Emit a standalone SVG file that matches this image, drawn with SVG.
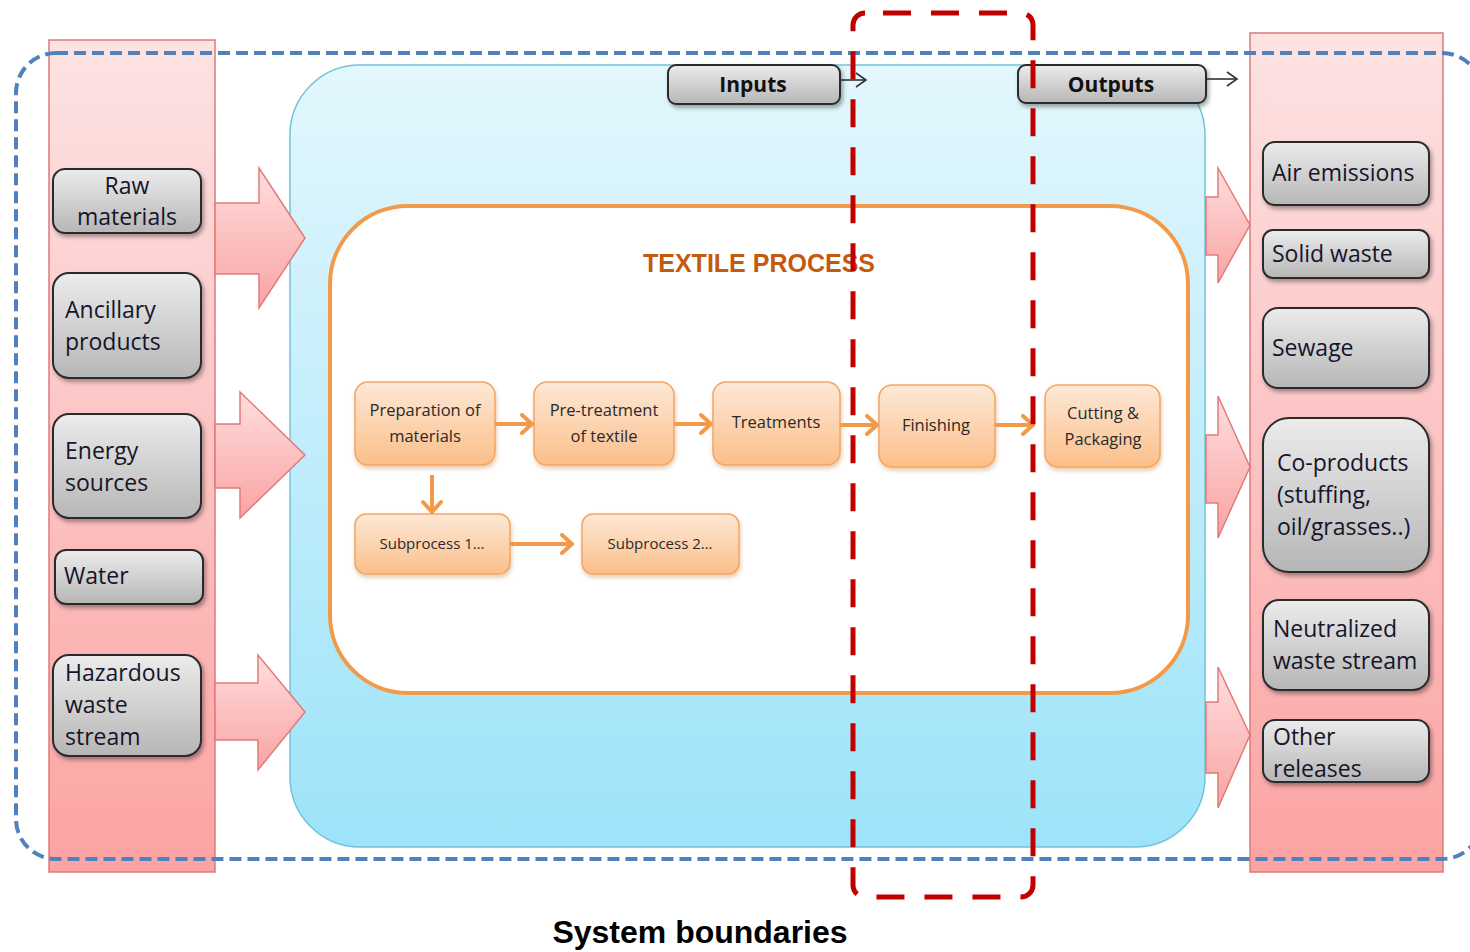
<svg xmlns="http://www.w3.org/2000/svg" width="1470" height="952" viewBox="0 0 1470 952">
  <defs>
    <linearGradient id="gPink" x1="0" y1="0" x2="0" y2="1">
      <stop offset="0" stop-color="#fde3e3"/>
      <stop offset="1" stop-color="#fca3a3"/>
    </linearGradient>
    <linearGradient id="gBlue" x1="0" y1="0" x2="0" y2="1">
      <stop offset="0" stop-color="#e3f7fd"/>
      <stop offset="1" stop-color="#9de3f9"/>
    </linearGradient>
    <linearGradient id="gGray" x1="0" y1="0" x2="0" y2="1">
      <stop offset="0" stop-color="#ececec"/>
      <stop offset="1" stop-color="#b6b6b6"/>
    </linearGradient>
    <linearGradient id="gOrange" x1="0" y1="0" x2="0" y2="1">
      <stop offset="0" stop-color="#fde8d6"/>
      <stop offset="1" stop-color="#fbbf8a"/>
    </linearGradient>
    <linearGradient id="gArrow" x1="0" y1="0" x2="0" y2="1">
      <stop offset="0" stop-color="#ffdede"/>
      <stop offset="1" stop-color="#f9a3a3"/>
    </linearGradient>
    <filter id="shadow" x="-10%" y="-10%" width="130%" height="140%">
      <feDropShadow dx="2" dy="3" stdDeviation="2" flood-color="#000" flood-opacity="0.35"/>
    </filter>
    <filter id="shadowSoft" x="-10%" y="-10%" width="130%" height="140%">
      <feDropShadow dx="1" dy="3" stdDeviation="2" flood-color="#b05a10" flood-opacity="0.3"/>
    </filter>
    <marker id="mOrange" markerUnits="userSpaceOnUse" markerWidth="16" markerHeight="22" viewBox="0 0 16 22" refX="13" refY="11" orient="auto">
      <path d="M3,2 L13,11 L3,20" fill="none" stroke="#f39a48" stroke-width="4" stroke-linecap="round" stroke-linejoin="round"/>
    </marker>
    <marker id="mDark" markerUnits="userSpaceOnUse" markerWidth="14" markerHeight="18" viewBox="0 0 14 18" refX="12" refY="9" orient="auto">
      <path d="M2,2 L12,9 L2,16" fill="none" stroke="#333" stroke-width="1.6"/>
    </marker>
  </defs>
  <style>
    .col { fill: url(#gPink); stroke: #de7a7a; stroke-width: 1.5; }
    .gray { fill: url(#gGray); stroke: #2b2b2b; stroke-width: 2; filter: url(#shadow); }
    .proc { fill: url(#gOrange); stroke: #f5a561; stroke-width: 1.5; filter: url(#shadowSoft); }
    .big { fill: url(#gArrow); stroke: #e27a7a; stroke-width: 1.5; }
    .lbl { font-family: "Open Sans", "Noto Sans", sans-serif; font-size: 23px; fill: #15152a; }
    .plbl { font-family: "Open Sans", "Noto Sans", sans-serif; font-size: 16.5px; fill: #2a2a2a; text-anchor: middle; }
    .slbl { font-family: "Open Sans", "Noto Sans", sans-serif; font-size: 15px; fill: #2a2a2a; text-anchor: middle; }
    .io { font-family: "Open Sans", "Noto Sans", sans-serif; font-size: 21px; font-weight: bold; fill: #111; text-anchor: middle; }
    .flow { fill: none; stroke: #f39a48; stroke-width: 4; marker-end: url(#mOrange); }
    .thin { fill: none; stroke: #333; stroke-width: 1.6; marker-end: url(#mDark); }
  </style>

  <!-- input and output columns -->
  <rect id="input-column" class="col" x="49" y="40" width="166" height="832"/>
  <rect id="output-column" class="col" x="1250" y="33" width="193" height="839"/>

  <!-- process area -->
  <rect id="process-area" x="290" y="65" width="915" height="782" rx="70" fill="url(#gBlue)" stroke="#74c2da" stroke-width="1.5"/>

  <!-- wide block arrows into and out of the process area -->
  <g id="flow-arrows">
    <polygon class="big" points="215,203 259,203 259,168 305,238 259,308 259,274 215,274"/>
    <polygon class="big" points="215,424 240,424 240,392 305,455 240,518 240,488 215,488"/>
    <polygon class="big" points="215,683 258,683 258,655 305,712 258,770 258,740 215,740"/>
    <polygon class="big" points="1206,197 1218,197 1218,168 1250,225 1218,283 1218,255 1206,255"/>
    <polygon class="big" points="1206,435 1218,435 1218,396 1250,467 1218,538 1218,503 1206,503"/>
    <polygon class="big" points="1206,702 1218,702 1218,667 1250,735 1218,808 1218,773 1206,773"/>
  </g>

  <!-- textile process frame -->
  <g id="textile-process">
    <rect x="330" y="206" width="858" height="487" rx="78" fill="#fff" stroke="#f39a48" stroke-width="4"/>
    <text x="759" y="272" text-anchor="middle" font-family="'Liberation Sans', Arial, sans-serif" font-size="25" font-weight="bold" fill="#c25a10">TEXTILE PROCESS</text>
  </g>

  <!-- input nodes -->
  <g id="raw-materials">
    <rect class="gray" x="53" y="169" width="148" height="64" rx="12"/>
    <text class="lbl" x="127" y="194" text-anchor="middle">Raw</text>
    <text class="lbl" x="127" y="225" text-anchor="middle">materials</text>
  </g>
  <g id="ancillary-products">
    <rect class="gray" x="53" y="273" width="148" height="105" rx="16"/>
    <text class="lbl" x="65" y="318">Ancillary</text>
    <text class="lbl" x="65" y="350">products</text>
  </g>
  <g id="energy-sources">
    <rect class="gray" x="53" y="414" width="148" height="104" rx="16"/>
    <text class="lbl" x="65" y="459">Energy</text>
    <text class="lbl" x="65" y="491">sources</text>
  </g>
  <g id="water">
    <rect class="gray" x="55" y="550" width="148" height="54" rx="11"/>
    <text class="lbl" x="64" y="584">Water</text>
  </g>
  <g id="hazardous-waste">
    <rect class="gray" x="53" y="655" width="148" height="101" rx="16"/>
    <text class="lbl" x="65" y="681">Hazardous</text>
    <text class="lbl" x="65" y="713">waste</text>
    <text class="lbl" x="65" y="745">stream</text>
  </g>

  <!-- output nodes -->
  <g id="air-emissions">
    <rect class="gray" x="1263" y="142" width="166" height="63" rx="12"/>
    <text class="lbl" x="1272" y="181">Air emissions</text>
  </g>
  <g id="solid-waste">
    <rect class="gray" x="1263" y="230" width="166" height="48" rx="10"/>
    <text class="lbl" x="1272" y="262">Solid waste</text>
  </g>
  <g id="sewage">
    <rect class="gray" x="1263" y="308" width="166" height="80" rx="15"/>
    <text class="lbl" x="1272" y="356">Sewage</text>
  </g>
  <g id="co-products">
    <rect class="gray" x="1263" y="418" width="166" height="154" rx="26"/>
    <text class="lbl" x="1277" y="471">Co-products</text>
    <text class="lbl" x="1277" y="503">(stuffing,</text>
    <text class="lbl" x="1277" y="535">oil/grasses..)</text>
  </g>
  <g id="neutralized-waste">
    <rect class="gray" x="1263" y="600" width="166" height="90" rx="16"/>
    <text class="lbl" x="1273" y="637">Neutralized</text>
    <text class="lbl" x="1273" y="669">waste stream</text>
  </g>
  <g id="other-releases">
    <rect class="gray" x="1263" y="720" width="166" height="62" rx="12"/>
    <text class="lbl" x="1273" y="745">Other</text>
    <text class="lbl" x="1273" y="777">releases</text>
  </g>

  <!-- header tabs -->
  <g id="inputs-tab">
    <rect class="gray" x="668" y="65" width="172" height="39" rx="8"/>
    <text class="io" x="753" y="92">Inputs</text>
  </g>
  <g id="outputs-tab">
    <rect class="gray" x="1018" y="65" width="188" height="38" rx="8"/>
    <text class="io" x="1111" y="92">Outputs</text>
  </g>

  <!-- process steps -->
  <g id="preparation">
    <rect class="proc" x="355" y="382" width="140" height="83" rx="13"/>
    <text class="plbl" x="425" y="416">Preparation of</text>
    <text class="plbl" x="425" y="442">materials</text>
  </g>
  <g id="pre-treatment">
    <rect class="proc" x="534" y="382" width="140" height="83" rx="13"/>
    <text class="plbl" x="604" y="416">Pre-treatment</text>
    <text class="plbl" x="604" y="442">of textile</text>
  </g>
  <g id="treatments">
    <rect class="proc" x="713" y="382" width="127" height="83" rx="13"/>
    <text class="plbl" x="776" y="428">Treatments</text>
  </g>
  <g id="finishing">
    <rect class="proc" x="879" y="385" width="116" height="82" rx="13"/>
    <text class="plbl" x="936" y="431">Finishing</text>
  </g>
  <g id="cutting-packaging">
    <rect class="proc" x="1045" y="385" width="115" height="82" rx="13"/>
    <text class="plbl" x="1103" y="419">Cutting &amp;</text>
    <text class="plbl" x="1103" y="445">Packaging</text>
  </g>
  <g id="subprocess-1">
    <rect class="proc" x="355" y="514" width="155" height="60" rx="11"/>
    <text class="slbl" x="432" y="549">Subprocess 1…</text>
  </g>
  <g id="subprocess-2">
    <rect class="proc" x="582" y="514" width="157" height="60" rx="11"/>
    <text class="slbl" x="660" y="549">Subprocess 2…</text>
  </g>

  <!-- connectors -->
  <g id="connectors">
    <path class="flow" d="M495,424 H532"/>
    <path class="flow" d="M674,424 H711"/>
    <path class="flow" d="M840,425 H877"/>
    <path class="flow" d="M995,425 H1033"/>
    <path class="flow" d="M432,475 V512"/>
    <path class="flow" d="M510,544 H572"/>
    <path class="thin" d="M840,80 H866"/>
    <path class="thin" d="M1206,79 H1237"/>
  </g>

  <!-- system boundary outlines -->
  <g id="boundaries">
    <rect x="16" y="53" width="1466" height="806" rx="40" fill="none" stroke="#4f81bd" stroke-width="4" stroke-dasharray="12 6"/>
    <rect x="853" y="13" width="180" height="884" rx="12" fill="none" stroke="#c00000" stroke-width="5" stroke-dasharray="28 20" stroke-dashoffset="30"/>
  </g>

  <text x="700" y="943" text-anchor="middle" font-family="'Liberation Sans', Arial, sans-serif" font-size="32" font-weight="bold" fill="#000">System boundaries</text>
</svg>
